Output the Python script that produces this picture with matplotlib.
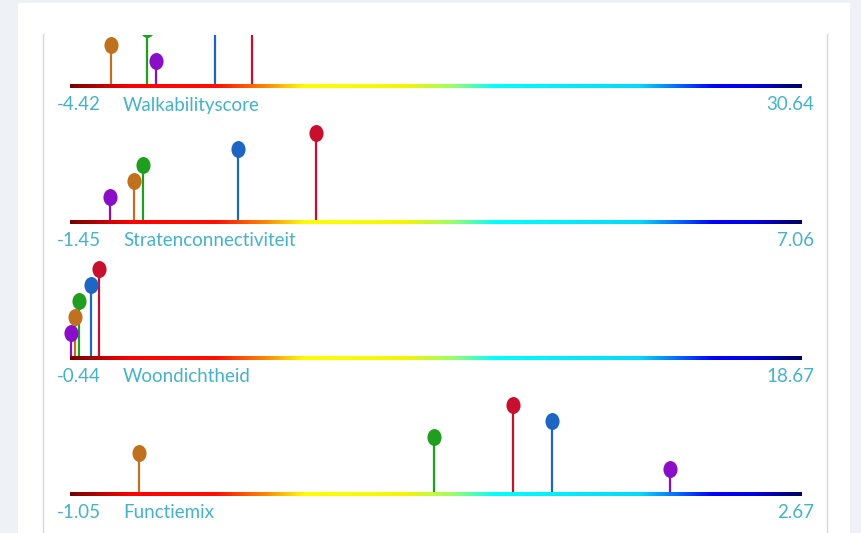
import numpy as np
import matplotlib
matplotlib.use("Agg")
import matplotlib.pyplot as plt
from matplotlib.colors import LinearSegmentedColormap
from matplotlib.patches import Rectangle
from matplotlib.lines import Line2D
from matplotlib.path import Path
from matplotlib.transforms import Affine2D

W, H = 861, 533

# data
variables = ["Walkabilityscore", "Stratenconnectiviteit", "Woondichtheid", "Functiemix"]
range_min = [-4.42, -1.45, -0.44, -1.05]
range_max = [30.64, 7.06, 18.67, 2.67]

# one value per variable, per series (series stacked by fixed level)
purple_vals = [-0.29, -0.99, -0.41, 2.00]
orange_vals = [-2.47, -0.71, -0.32, -0.70]
green_vals = [-0.72, -0.60, -0.21, 0.80]
blue_vals = [2.52, 0.50, 0.10, 1.40]
red_vals = [4.30, 1.41, 0.31, 1.20]

series = [
    (purple_vals, "#8a0ec8"),
    (orange_vals, "#c0711f"),
    (green_vals, "#1f9e1f"),
    (blue_vals, "#1e66c4"),
    (red_vals, "#c8102e"),
]

text_col = "#45b3c6"
plt.rcParams["font.family"] = ["Lato", "DejaVu Sans"]

rainbow = LinearSegmentedColormap.from_list("baseline", [
    (0.00, "#780000"), (0.08, "#ff0000"), (0.20, "#ff1000"),
    (0.27, "#ff9000"), (0.32, "#ffff00"), (0.46, "#f4f400"),
    (0.52, "#a0ff60"), (0.58, "#00ffff"), (0.78, "#00d8ff"),
    (0.88, "#0000ff"), (0.94, "#0000e0"), (1.00, "#000060"),
])

# slightly tall ellipse for the lollipop heads
ellipse = Path.unit_circle().transformed(Affine2D().scale(1.0, 1.2))

fig = plt.figure(figsize=(W / 100, H / 100), dpi=100)
fig.patch.set_facecolor("#eef1f5")
fig.patches.append(Rectangle((18 / W, 0), (850 - 18) / W, 1 - 3 / H,
                             transform=fig.transFigure, facecolor="white",
                             edgecolor="none", zorder=-2))
for gx in (43, 827):
    fig.lines.append(Line2D([gx / W, gx / W], [0, 1 - 34 / H],
                            transform=fig.transFigure, color="#d9d9d9",
                            lw=1.0, zorder=-1))

x0, x1 = 70, 802
for i, var in enumerate(variables):
    base = 86 + 136 * i
    top = 35 if i == 0 else base - 100
    bot = base + 6
    ax = fig.add_axes([x0 / W, 1 - bot / H, (x1 - x0) / W, (bot - top) / H])
    ax.set_axis_off()
    lo, hi = range_min[i], range_max[i]
    clip = i == 0  # top panel is scrolled half out of view

    grad = np.linspace(0, 1, 512).reshape(1, -1)
    ax.imshow(grad, cmap=rainbow, aspect="auto", extent=(lo, hi, -1.7, 1.7),
              zorder=3, interpolation="bilinear")

    for level, (vals, col) in enumerate(series, start=1):
        h = 9 + 16 * level
        ax.vlines(vals[i], 0, h, color=col, lw=1.6, zorder=2, clip_on=clip)
        ax.plot(vals[i], h, marker=ellipse, ms=12.2, color=col, mec="none",
                zorder=4, clip_on=clip)

    ax.set_xlim(lo, hi)
    ax.set_ylim(-6, base - top)

    ty = 1 - (base + 19) / H
    fig.text(57 / W, ty, f"{lo:.2f}", color=text_col, fontsize=13.5,
             ha="left", va="center")
    fig.text(123 / W, ty, var, color=text_col, fontsize=13.5,
             ha="left", va="center")
    fig.text(814 / W, ty, f"{hi:.2f}", color=text_col, fontsize=13.5,
             ha="right", va="center")

fig.savefig("out.png", dpi=100, facecolor=fig.get_facecolor())
